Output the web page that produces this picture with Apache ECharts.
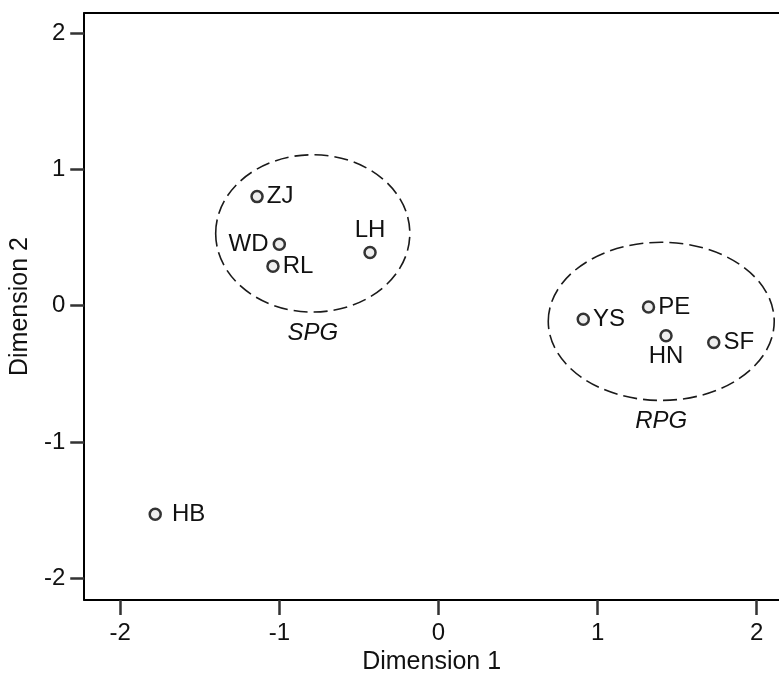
<!DOCTYPE html>
<html>
<head>
<meta charset="utf-8">
<script src="https://cdn.jsdelivr.net/npm/echarts@6/dist/echarts.min.js"></script>
<style>
    html, body { margin: 0; padding: 0; background: #fff; }
    #chart { width: 779px; height: 680px; }
</style>
</head>
<body>
<div id="chart"></div>
<script>
// points
var names = ['ZJ', 'WD', 'RL', 'LH', 'YS', 'PE', 'HN', 'SF', 'HB'];
var dim1 = [-1.14, -1.00, -1.04, -0.43, 0.91, 1.32, 1.43, 1.73, -1.78];
var dim2 = [0.80, 0.45, 0.29, 0.39, -0.10, -0.01, -0.22, -0.27, -1.53];

// groups (ellipses)
var groupNames = ['SPG', 'RPG'];
var groupCx = [-0.79, 1.40];
var groupCy = [0.53, -0.115];
var groupRx = [0.61, 0.71];
var groupRy = [0.577, 0.58];

// tick labels
var xTicks = [-2, -1, 0, 1, 2];
var yTicks = [-2, -1, 0, 1, 2];

document.addEventListener('DOMContentLoaded', function () {
    var chart = echarts.init(document.getElementById('chart'));
    var font = 'Liberation Sans, Arial, sans-serif';

    // label placement per point
    var labelPlace = {
        WD: { position: 'left', distance: 4 },
        LH: { position: 'top', distance: 3 },
        HN: { position: 'bottom', distance: 2 },
        HB: { position: 'right', distance: 10 }
    };

    var points = names.map(function (n, i) {
        var p = labelPlace[n] || { position: 'right', distance: 3 };
        return {
            name: n,
            value: [dim1[i], dim2[i]],
            label: { position: p.position, distance: p.distance }
        };
    });

    var groups = groupNames.map(function (n, i) {
        return { name: n, value: [groupCx[i], groupCy[i], groupRx[i], groupRy[i]] };
    });

    var option = {
        animation: false,
        grid: {
            left: 83,
            top: 13,
            right: 0,
            bottom: 77,
            show: false
        },
        xAxis: [
            {
                type: 'value',
                min: -2.226,
                max: 2.14,
                name: 'Dimension 1',
                nameLocation: 'middle',
                nameGap: 49,
                nameTextStyle: { fontSize: 25, color: '#111', fontFamily: font },
                axisLine: { show: true, onZero: false, lineStyle: { color: '#000', width: 2 } },
                axisTick: { show: true, length: 15, customValues: xTicks, lineStyle: { color: '#333', width: 2.5 } },
                axisLabel: { customValues: xTicks, fontSize: 24, color: '#111', fontFamily: font, margin: 21 },
                splitLine: { show: false }
            },
            {
                // top frame line
                type: 'value',
                position: 'top',
                min: -2.226,
                max: 2.14,
                axisLine: { show: true, onZero: false, lineStyle: { color: '#000', width: 2 } },
                axisTick: { show: false },
                axisLabel: { show: false },
                splitLine: { show: false }
            }
        ],
        yAxis: {
            type: 'value',
            min: -2.16,
            max: 2.147,
            name: 'Dimension 2',
            nameLocation: 'middle',
            nameGap: 46,
            nameTextStyle: { fontSize: 25, color: '#111', fontFamily: font },
            axisLine: { show: true, onZero: false, lineStyle: { color: '#000', width: 2 } },
            axisTick: { show: true, length: 14, customValues: yTicks, lineStyle: { color: '#333', width: 2.5 } },
            axisLabel: { customValues: yTicks, fontSize: 24, color: '#111', fontFamily: font, margin: 19 },
            splitLine: { show: false }
        },
        series: [
            {
                type: 'custom',
                data: groups,
                silent: true,
                renderItem: function (params, api) {
                    var c = api.coord([api.value(0), api.value(1)]);
                    var s = api.size([api.value(2), api.value(3)]);
                    return {
                        type: 'group',
                        children: [
                            {
                                type: 'ellipse',
                                shape: { cx: c[0], cy: c[1], rx: s[0], ry: s[1] },
                                style: { fill: 'none', stroke: '#1a1a1a', lineWidth: 1.6, lineDash: [14, 6] }
                            },
                            {
                                type: 'text',
                                x: c[0],
                                y: c[1] + s[1] + 21,
                                style: {
                                    text: groupNames[params.dataIndex],
                                    fill: '#111',
                                    font: 'italic 24px ' + font,
                                    align: 'center',
                                    verticalAlign: 'middle'
                                }
                            }
                        ]
                    };
                }
            },
            {
                type: 'scatter',
                data: points,
                symbol: 'circle',
                symbolSize: 11,
                itemStyle: { color: '#eee', borderColor: '#333', borderWidth: 2.5, opacity: 1 },
                label: {
                    show: true,
                    formatter: '{b}',
                    fontSize: 24,
                    color: '#111',
                    fontFamily: font
                }
            }
        ]
    };

    chart.setOption(option);
    window.addEventListener('resize', function () {
        chart.resize();
    });
});
</script>
</body>
</html>
